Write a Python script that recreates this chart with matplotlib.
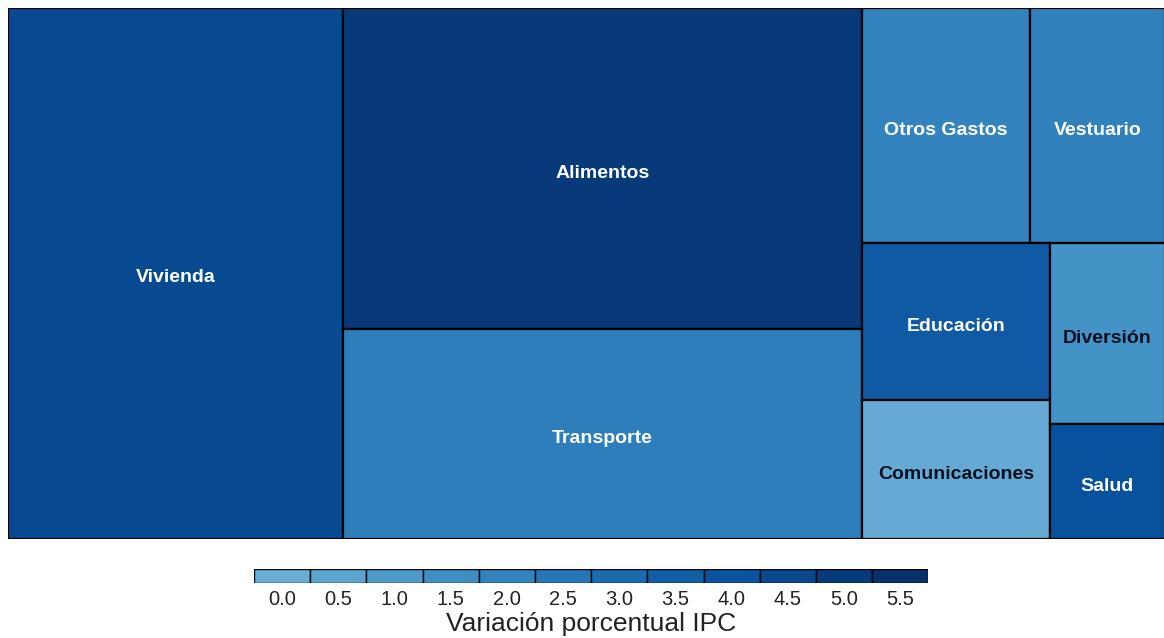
import numpy as np
import matplotlib
matplotlib.use('Agg')
import matplotlib.pyplot as plt
from matplotlib.colors import LinearSegmentedColormap, Normalize
from matplotlib.patches import Rectangle

plt.rcParams['font.family'] = ['Liberation Sans', 'DejaVu Sans']

# Datos: grupos del IPC, ponderación (%) y variación porcentual
grupos = ['Vivienda', 'Alimentos', 'Transporte', 'Otros Gastos', 'Vestuario',
          'Educación', 'Comunicaciones', 'Diversión', 'Salud']
ponderacion = [28.95, 27.12, 17.74, 6.43, 5.16, 4.80, 4.25, 3.39, 2.15]
variacion = [4.4, 5.1, 2.2, 2.0, 2.1, 3.7, 0.2, 1.3, 4.1]

ticks_leyenda = [0.0, 0.5, 1.0, 1.5, 2.0, 2.5, 3.0, 3.5, 4.0, 4.5, 5.0, 5.5]

# Paleta azul (parte oscura de Blues)
cmap = LinearSegmentedColormap.from_list('azules', plt.cm.Blues(np.linspace(0.5, 1.0, 256)))
norm = Normalize(vmin=0.0, vmax=5.5)


# Algoritmo "pivot by size" (como el paquete treemap de R)
def pivot(items, x, y, w, h, out):
    if len(items) == 0:
        return
    if len(items) == 1:
        out[items[0][0]] = (x, y, w, h)
        return
    p = max(range(len(items)), key=lambda i: items[i][1])
    l1 = items[:p]
    resto = items[p + 1:]
    a1 = sum(a for _, a in l1)
    ap = items[p][1]
    ancho = w >= h
    w_r = w - (a1 / h if ancho else 0)
    h_r = h - (0 if ancho else a1 / w)
    mejor = None
    for k in range(len(resto) + 1):
        a2 = sum(a for _, a in resto[:k])
        if ancho:
            s = (ap + a2) / h_r
            q = h_r * ap / (ap + a2)
        else:
            s = (ap + a2) / w_r
            q = w_r * ap / (ap + a2)
        r = max(s / q, q / s)
        if mejor is None or r < mejor[0]:
            mejor = (r, k)
    k = mejor[1]
    l2 = resto[:k]
    l3 = resto[k:]
    a2 = sum(a for _, a in l2)
    if ancho:
        w1 = a1 / h
        pivot(l1, x, y, w1, h, out)
        s = (ap + a2) / h
        q = h * ap / (ap + a2)
        out[items[p][0]] = (x + w1, y, s, q)
        pivot(l2, x + w1, y + q, s, h - q, out)
        pivot(l3, x + w1 + s, y, w - w1 - s, h, out)
    else:
        h1 = a1 / w
        pivot(l1, x, y, w, h1, out)
        s = (ap + a2) / w
        q = w * ap / (ap + a2)
        out[items[p][0]] = (x, y + h1, q, s)
        pivot(l2, x + q, y + h1, w - q, s, out)
        pivot(l3, x, y + h1 + s, w, h - h1 - s, out)


fig = plt.figure(figsize=(11.64, 6.38), dpi=100)
ax = fig.add_axes([8 / 1164, 1 - 539 / 638, 1157 / 1164, 531 / 638])

W = 1157.0
H = 531.0
total = sum(ponderacion)
items = [(i, ponderacion[i] / total * W * H) for i in range(len(grupos))]
rects = {}
pivot(items, 0, 0, W, H, rects)

for i, nombre in enumerate(grupos):
    x, y, w, h = rects[i]
    color = cmap(norm(variacion[i]))
    ax.add_patch(Rectangle((x, y), w, h, facecolor=color, edgecolor='black', linewidth=1.6))
    brillo = 0.299 * color[0] + 0.587 * color[1] + 0.114 * color[2]
    txt = '#0a1020' if brillo > 0.5 else 'white'
    ax.text(x + w / 2, y + h / 2 + 4.5, nombre, ha='center', va='center',
            fontsize=14, fontweight='bold', color=txt)

ax.set_xlim(0, W)
ax.set_ylim(H, 0)
ax.axis('off')

# Leyenda
lax = fig.add_axes([254 / 1164, 1 - 582.7 / 638, 674.3 / 1164, 13.4 / 638])
for j, v in enumerate(ticks_leyenda):
    lax.add_patch(Rectangle((j, 0), 1, 1, facecolor=cmap(norm(v)), edgecolor='black', linewidth=1.0))
    lax.text(j + 0.5, -0.55, f'{v:.1f}', ha='center', va='top', fontsize=14.5,
             color='#222222', transform=lax.transData)
lax.set_xlim(0, len(ticks_leyenda))
lax.set_ylim(0, 1)
lax.axis('off')

fig.text((254 + 928.3) / 2 / 1164, 1 - 631 / 638, 'Variación porcentual IPC',
         ha='center', va='baseline', fontsize=19, color='#222222')

fig.savefig('out.png', dpi=100)
